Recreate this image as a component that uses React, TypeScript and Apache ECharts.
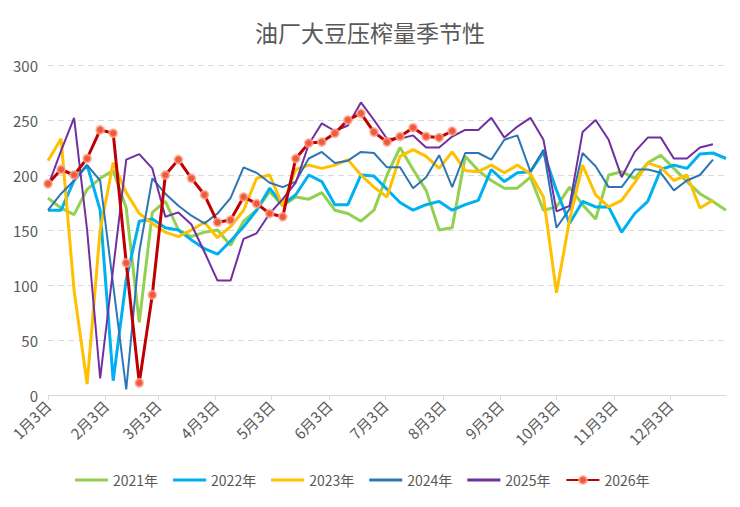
import React, { useEffect, useRef } from 'react';
import * as echarts from 'echarts';

// month lengths used to build the daily category axis (1月3日 -> 1月2日)
const monthDays = [31, 28, 31, 30, 31, 30, 31, 31, 30, 31, 30, 31];

const yearNames = ['2021年', '2022年', '2023年', '2024年', '2025年', '2026年'];
const yearColors = ['#92d050', '#00b0f0', '#ffc000', '#2e75b6', '#7030a0', '#c00000'];

// weekly crush volumes (万吨)
const v2021 = [179, 170, 164, 187, 197, 204, 170, 66, 166, 176, 150, 144, 148, 150, 136, 158, 168, 185, 172, 180, 178, 184, 168, 165, 158, 168, 200, 225, 205, 186, 150, 152, 217, 204, 195, 188, 188, 198, 168, 171, 189, 173, 160, 200, 203, 197, 211, 218, 206, 194, 183, 176, 168];
const v2022 = [168, 168, 195, 209, 168, 13, 105, 158, 160, 152, 150, 141, 133, 128, 140, 153, 168, 188, 173, 182, 200, 194, 173, 173, 200, 199, 187, 175, 168, 173, 176, 168, 173, 177, 205, 194, 202, 203, 221, 186, 156, 176, 171, 171, 148, 165, 176, 205, 209, 206, 219, 220, 215];
const v2023 = [213, 233, 95, 10, 150, 211, 184, 165, 156, 148, 144, 150, 157, 143, 153, 168, 197, 200, 172, 205, 209, 206, 209, 214, 200, 189, 180, 217, 223, 217, 206, 221, 204, 203, 209, 202, 209, 201, 180, 93, 159, 209, 182, 171, 177, 193, 211, 207, 195, 200, 170, 177];
const v2024 = [168, 183, 195, 209, 195, 100, 5, 130, 197, 183, 172, 163, 156, 165, 179, 207, 202, 193, 189, 194, 215, 221, 211, 213, 221, 220, 207, 207, 188, 198, 218, 189, 220, 220, 214, 232, 236, 203, 223, 152, 169, 220, 208, 189, 189, 205, 205, 202, 186, 195, 200, 214];
const v2025 = [190, 222, 252, 150, 15, 115, 214, 219, 206, 162, 166, 155, 130, 104, 104, 142, 147, 165, 178, 193, 228, 247, 240, 245, 266, 250, 233, 233, 236, 225, 225, 235, 241, 241, 252, 234, 244, 252, 232, 167, 172, 239, 250, 232, 198, 221, 234, 234, 215, 215, 225, 228];
const v2026 = [192, 205, 200, 215, 241, 238, 120, 11, 91, 200, 214, 197, 182, 157, 159, 180, 174, 165, 162, 215, 229, 230, 238, 250, 256, 239, 230, 235, 243, 235, 234, 240];

const days: string[] = [];
{
  let m = 0;
  let d = 3;
  for (let k = 0; k < 365; k++) {
    days.push(`${m + 1}月${d}日`);
    d++;
    if (d > monthDays[m]) {
      d = 1;
      m = (m + 1) % 12;
    }
  }
}

const weekly = (vals: number[]) => vals.map((v, i) => [i * 7, v]);

// thin bar inside a 33x10 box, so the legend draws a plain line
const lineIcon = 'path://M0,0L0.01,0M0,3.5L33,3.5L33,6.5L0,6.5ZM33,10L33.01,10';

const App: React.FC = () => {
  const chartRef = useRef<HTMLDivElement>(null);

  useEffect(() => {
    document.body.style.margin = '0';
    if (!chartRef.current) return;
    const chart = echarts.init(chartRef.current, null, { renderer: 'svg' });
    const font = '"Noto Sans CJK SC", "Noto Sans", sans-serif';
    const showDay = (_: number, value: string) => /^\d+月3日$/.test(value);

    const allValues = [v2021, v2022, v2023, v2024, v2025, v2026];
    const widths = [3, 3, 3, 2, 2, 3];

    const series: any[] = allValues.map((vals, idx) => {
      const last = idx === 5;
      return {
        name: yearNames[idx],
        type: 'line',
        data: weekly(vals),
        symbol: last ? 'circle' : 'none',
        symbolSize: 8,
        showSymbol: last,
        showAllSymbol: true,
        lineStyle: { color: yearColors[idx], width: widths[idx] },
        itemStyle: last
          ? { color: '#ee5b3b', borderColor: 'rgba(255,170,150,0.7)', borderWidth: 2 }
          : { color: yearColors[idx] },
        z: 2 + idx,
      };
    });

    chart.setOption({
      animation: false,
      textStyle: { fontFamily: font },
      title: {
        text: '油厂大豆压榨量季节性',
        left: 'center',
        top: 15,
        textStyle: { fontSize: 23, fontWeight: 'normal', color: '#595959', fontFamily: font },
      },
      grid: { left: 48, right: 14, top: 65, bottom: 112 },
      legend: {
        data: yearNames.map((n, i) => (i < 5 ? { name: n, icon: lineIcon } : { name: n })),
        top: 468,
        left: 70,
        itemWidth: 33,
        itemHeight: 10,
        itemGap: 15,
        textStyle: { fontSize: 14, color: '#595959', fontFamily: font },
      },
      xAxis: {
        type: 'category',
        data: days,
        boundaryGap: false,
        axisLine: { lineStyle: { color: '#d9d9d9' } },
        axisTick: { interval: showDay, lineStyle: { color: '#d9d9d9' }, length: 5 },
        axisLabel: {
          interval: showDay,
          rotate: 45,
          fontSize: 15,
          color: '#595959',
          margin: 8,
          fontFamily: font,
        },
        splitLine: { show: false },
      },
      yAxis: {
        type: 'value',
        min: 0,
        max: 300,
        interval: 50,
        axisLine: { show: false },
        axisTick: { show: false },
        axisLabel: { fontSize: 15, color: '#595959', margin: 10, fontFamily: font },
        splitLine: { lineStyle: { color: '#d9d9d9', type: [6, 4] } },
      },
      series,
    });

    return () => {
      chart.dispose();
    };
  }, []);

  return <div ref={chartRef} style={{ width: '740px', height: '507px' }} />;
};

export default App;
